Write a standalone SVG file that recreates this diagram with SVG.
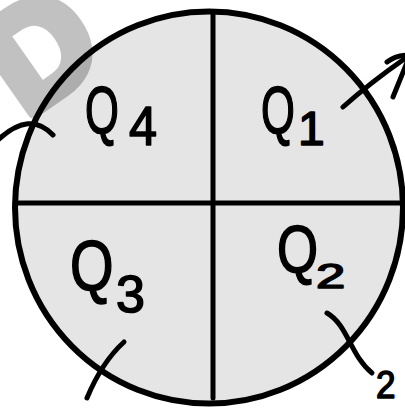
<svg xmlns="http://www.w3.org/2000/svg" width="405" height="408" viewBox="0 0 405 408">
  <style>
    .lbl { font-family: "Liberation Sans", "DejaVu Sans", sans-serif; fill: #000; stroke: #000; stroke-width: 1.6; stroke-linejoin: round; }
    .ln { fill: none; stroke: #000; stroke-width: 5; stroke-linecap: round; stroke-linejoin: round; }
  </style>
  <rect width="405" height="408" fill="#fff"/>
  <g id="circle">
    <ellipse cx="209" cy="207.5" rx="194" ry="196" fill="#e5e5e5" stroke="#000" stroke-width="6"/>
    <line class="ln" x1="213" y1="13" x2="213" y2="398" stroke-width="5.5"/>
    <line class="ln" x1="15" y1="203" x2="403" y2="203" stroke-width="5.5" stroke-linecap="butt"/>
  </g>
  <g id="watermark" opacity="0.24">
    <text transform="translate(26,118) rotate(-35)" font-family="Liberation Sans, sans-serif" font-weight="bold" font-size="140" fill="#000" stroke="#000" stroke-width="12" stroke-linejoin="round">D</text>
  </g>
  <g id="connectors">
    <path class="ln" d="M343,107 Q372,81 410,55"/>
    <path class="ln" d="M387,62 Q396,55 410,55 L393,97"/>
    <path class="ln" d="M-2,140 Q30,110 53,135"/>
    <path class="ln" d="M124,342 Q102,362 87,398"/>
    <path class="ln" d="M327,313 C348,325 350,355 372,373"/>
  </g>
  <g id="q4">
    <text class="lbl" transform="translate(85,133) scale(0.66,1)" font-size="66">Q</text>
    <text class="lbl" transform="translate(129,145) scale(0.9,1)" font-size="56">4</text>
  </g>
  <g id="q1">
    <text class="lbl" transform="translate(261,133) scale(0.66,1)" font-size="66">Q</text>
    <text class="lbl" transform="translate(298,145)" font-size="48">1</text>
  </g>
  <g id="q3">
    <text class="lbl" transform="translate(70,290) scale(0.8,1)" font-size="70">Q</text>
    <text class="lbl" transform="translate(116,312)" font-size="52">3</text>
  </g>
  <g id="q2">
    <text class="lbl" transform="translate(277,272) scale(0.8,1)" font-size="66">Q</text>
    <text class="lbl" transform="translate(316,288) scale(1.5,1)" font-size="35">2</text>
  </g>
  <g id="edge-label">
    <text class="lbl" transform="translate(376,398) scale(0.9,1)" font-size="39">2</text>
  </g>
</svg>
